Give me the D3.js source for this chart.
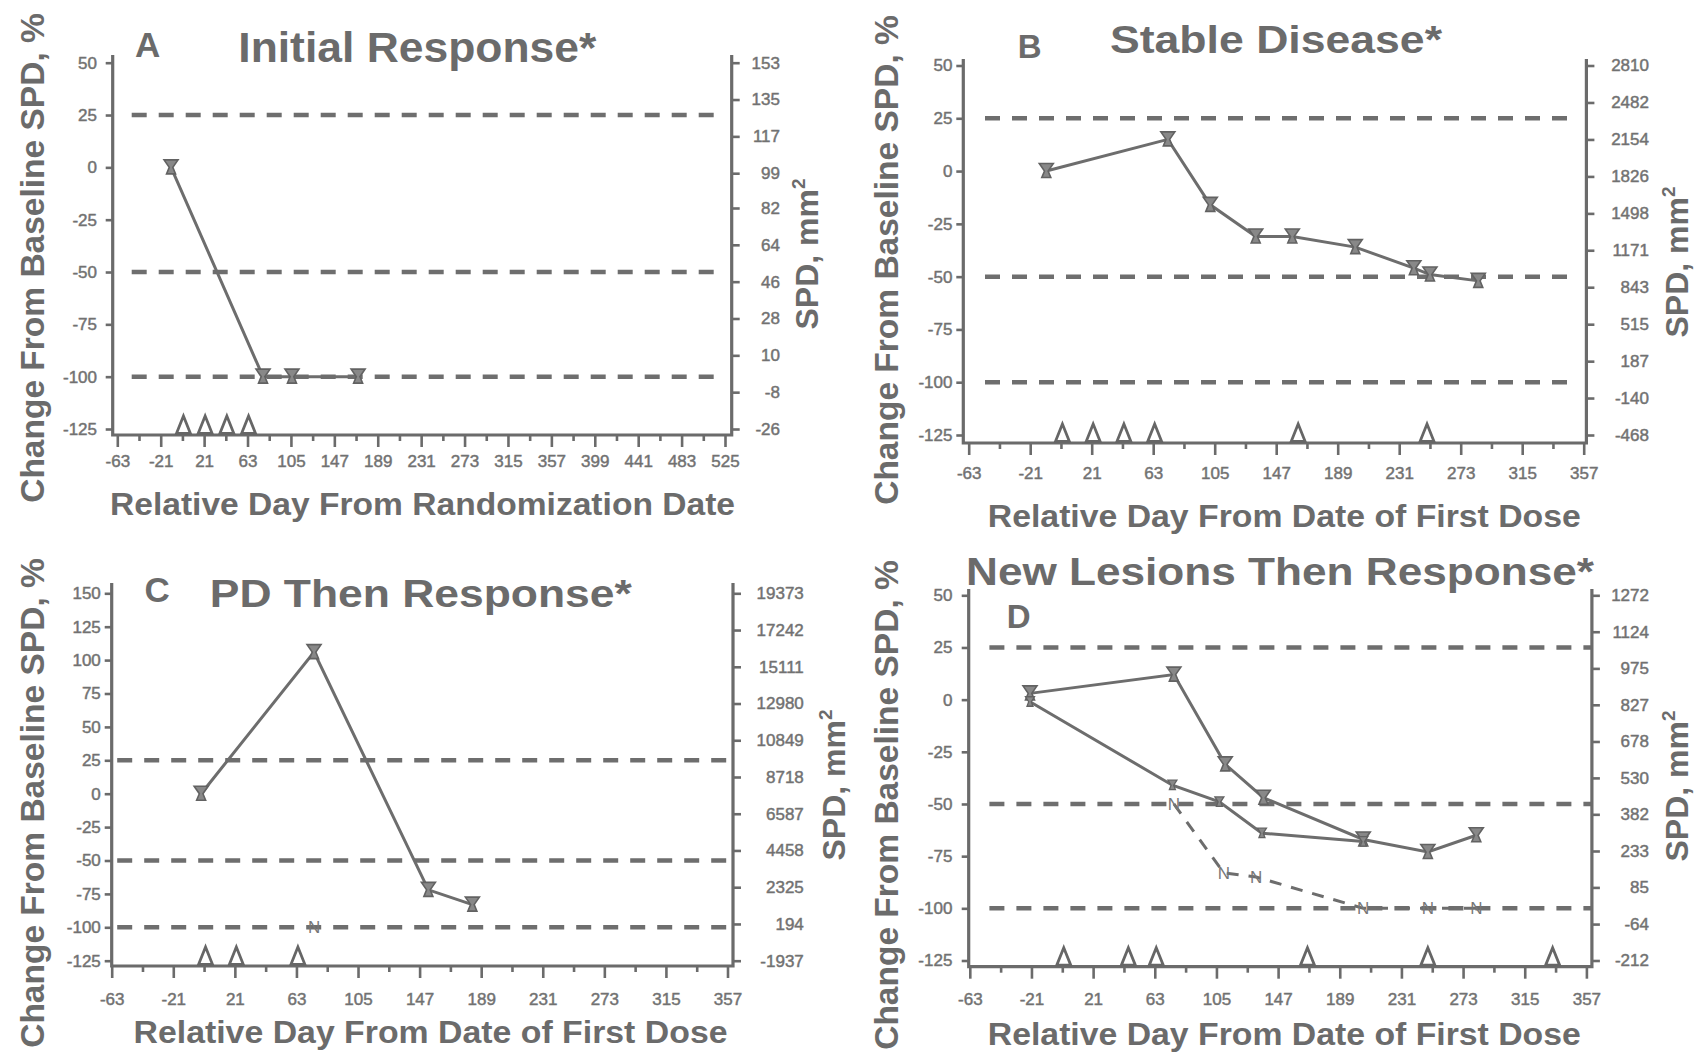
<!DOCTYPE html>
<html>
<head>
<meta charset="utf-8">
<script src="https://cdn.jsdelivr.net/npm/d3@7"></script>
<style>
  body { margin: 0; background: #ffffff; }
  svg { display: block; }
</style>
</head>
<body>
<script>
// ---------------- DATA ----------------
const pctTicksStd = [50, 25, 0, -25, -50, -75, -100, -125];
const pctTicksC = [150, 125, 100, 75, 50, 25, 0, -25, -50, -75, -100, -125];
const dayTicksA = [-63, -21, 21, 63, 105, 147, 189, 231, 273, 315, 357, 399, 441, 483, 525];
const dayTicksDose = [-63, -21, 21, 63, 105, 147, 189, 231, 273, 315, 357];
const spdTicksA = [153, 135, 117, 99, 82, 64, 46, 28, 10, -8, -26];
const spdTicksB = [2810, 2482, 2154, 1826, 1498, 1171, 843, 515, 187, -140, -468];
const spdTicksC = [19373, 17242, 15111, 12980, 10849, 8718, 6587, 4458, 2325, 194, -1937];
const spdTicksD = [1272, 1124, 975, 827, 678, 530, 382, 233, 85, -64, -212];
const thresholds = [25, -50, -100];

const daysA = [-11, 78, 106, 170];
const pctA = [0, -100, -100, -100];
const doseDaysA = [1, 22, 43, 64];

const daysB = [-10, 73, 102, 133, 158, 201, 241, 252, 285];
const pctB = [0, 15, -16, -31, -31, -36, -46, -49, -52];
const doseDaysB = [1, 22, 43, 64, 162, 250];

const daysC = [-2, 75, 153, 183];
const pctC = [0, 106, -72, -83];
const newLesionDaysC = [75];
const newLesionPctC = [-100];
const doseDaysC = [1, 22, 64];

const daysD1 = [-22, 76, 111, 137, 205, 249, 282];
const pctD1 = [3, 12, -31, -47, -67, -73, -65];
const daysD2 = [-22, 75, 107, 136, 205];
const pctD2 = [-1, -41, -49, -64, -68];
const newLesionDaysD = [76, 110, 132, 205, 249, 282];
const newLesionPctD = [-50, -83, -85, -100, -100, -100];
const doseDaysD = [1, 45, 64, 167, 249, 334];

// ---------------- LAYOUT ----------------
const W = 1698, H = 1058;
const GRAY = "#6b6b6b";
const LINE = "#6d6d6d";
const FONT = "'Liberation Sans', Arial, Helvetica, sans-serif";

const panels = [
  { letter: "A", title: "Initial Response*", xTitle: "Relative Day From Randomization Date",
    dayTicks: dayTicksA, pctTicks: pctTicksStd, spdTicks: spdTicksA,
    series: [{ days: daysA, pct: pctA, marker: "big" }], nl: null, doses: doseDaysA,
    L: 112.7, R: 731.7, xd: [-63, 525], xr: [117.3, 725], yd: [-125, 50], yr: [429, 62.7],
    axisY: 435, axisTop: 55, leftLabelX: 97, rightLabelX: 780, xLabelBase: 467,
    refStart: 19, refEnd: 11.7,
    letterPos: [135, 57, 35], titlePos: [238.3, 62, 42, 358], xTitlePos: [110, 515, 625],
    yTitlePos: [43.5, 258], rTitlePos: [818, 254] },
  { letter: "B", title: "Stable Disease*", xTitle: "Relative Day From Date of First Dose",
    dayTicks: dayTicksDose, pctTicks: pctTicksStd, spdTicks: spdTicksB,
    series: [{ days: daysB, pct: pctB, marker: "big" }], nl: null, doses: doseDaysB,
    L: 963.3, R: 1586.4, xd: [-63, 357], xr: [968.7, 1583.7], yd: [-125, 50], yr: [435, 65.5],
    axisY: 443, axisTop: 59, leftLabelX: 952.4, rightLabelX: 1649, xLabelBase: 479,
    refStart: 21.7, refEnd: 11,
    letterPos: [1017.7, 58, 33], titlePos: [1110, 53, 38, 332], xTitlePos: [987.8, 527, 593],
    yTitlePos: [898, 260], rTitlePos: [1688, 262] },
  { letter: "C", title: "PD Then Response*", xTitle: "Relative Day From Date of First Dose",
    dayTicks: dayTicksDose, pctTicks: pctTicksC, spdTicks: spdTicksC,
    series: [{ days: daysC, pct: pctC, marker: "big" }],
    nl: { days: newLesionDaysC, pct: newLesionPctC, line: false }, doses: doseDaysC,
    L: 111.7, R: 733, xd: [-63, 357], xr: [111.7, 727.5], yd: [-125, 150], yr: [960.7, 593.3],
    axisY: 966, axisTop: 583, leftLabelX: 100.8, rightLabelX: 803.8, xLabelBase: 1005,
    refStart: 5.5, refEnd: 3,
    letterPos: [144.4, 602, 35], titlePos: [209.8, 606.7, 38, 422], xTitlePos: [133.5, 1043.3, 594],
    yTitlePos: [44, 803], rTitlePos: [845, 785] },
  { letter: "D", title: "New Lesions Then Response*", xTitle: "Relative Day From Date of First Dose",
    dayTicks: dayTicksDose, pctTicks: pctTicksStd, spdTicks: spdTicksD,
    series: [{ days: daysD1, pct: pctD1, marker: "big" }, { days: daysD2, pct: pctD2, marker: "small" }],
    nl: { days: newLesionDaysD, pct: newLesionPctD, line: true }, doses: doseDaysD,
    L: 968.7, R: 1591.9, xd: [-63, 357], xr: [969.8, 1586.4], yd: [-125, 50], yr: [960.5, 595.3],
    axisY: 966.7, axisTop: 589, leftLabelX: 952.4, rightLabelX: 1649, xLabelBase: 1005,
    refStart: 20.7, refEnd: 0,
    letterPos: [1006.8, 628.3, 33], titlePos: [966, 585, 38, 628], xTitlePos: [987.8, 1045, 593],
    yTitlePos: [898, 805], rTitlePos: [1688, 786] }
];

// ---------------- DRAW ----------------
const svg = d3.select("body").append("svg")
  .attr("width", W).attr("height", H)
  .style("font-family", FONT)
  .style("background", "#fff");

function styleAxis(sel, fontSize) {
  sel.select(".domain").remove();
  sel.selectAll(".tick line").attr("stroke", GRAY).attr("stroke-width", 2.6);
  sel.selectAll(".tick text")
    .attr("fill", "#6e6e6e")
    .attr("stroke", "#7a7a7a").attr("stroke-width", 0.5)
    .style("font-size", fontSize + "px")
    .style("font-family", FONT);
}

function bigMarker(g, cx, cy) {
  g.append("path")
    .attr("d", `M${cx - 7},${cy - 7.5} H${cx + 7} L${cx + 1.8},${cy} L${cx + 4.5},${cy + 6.5} H${cx - 4.5} L${cx - 1.8},${cy} Z`)
    .attr("fill", "#888").attr("stroke", "#626262").attr("stroke-width", 1.6);
}
function smallMarker(g, cx, cy) {
  g.append("path")
    .attr("d", `M${cx - 4.5},${cy - 5} H${cx + 4.5} L${cx + 1.3},${cy} L${cx + 3},${cy + 4.5} H${cx - 3} L${cx - 1.3},${cy} Z`)
    .attr("fill", "#888").attr("stroke", "#626262").attr("stroke-width", 1.3);
}

function drawPanel(p) {
  const g = svg.append("g");
  const x = d3.scaleLinear().domain(p.xd).range(p.xr);
  const y = d3.scaleLinear().domain(p.yd).range(p.yr);
  const spd = p.spdTicks;
  const yR = d3.scaleLinear().domain([spd[spd.length - 1], spd[0]])
    .range([y(-125), y(p.yd[1])]);

  // threshold dashed lines
  g.selectAll("line.ref").data(thresholds).join("line").attr("class", "ref")
    .attr("x1", p.L + p.refStart).attr("x2", p.R - p.refEnd)
    .attr("y1", d => y(d)).attr("y2", d => y(d))
    .attr("stroke", "#6e6e6e").attr("stroke-width", 4.5)
    .attr("stroke-dasharray", "15,12");

  // axes frame (left, bottom, right)
  g.append("path")
    .attr("d", `M${p.L},${p.axisTop} V${p.axisY} H${p.R} V${p.axisTop}`)
    .attr("fill", "none").attr("stroke", GRAY).attr("stroke-width", 3.2);

  // left axis
  const la = g.append("g").attr("transform", `translate(${p.L},0)`)
    .call(d3.axisLeft(y).tickValues(p.pctTicks).tickSize(7)
      .tickPadding(p.L - 7 - p.leftLabelX).tickFormat(d => String(d)));
  styleAxis(la, 17);

  // right axis
  const ra = g.append("g").attr("transform", `translate(${p.R},0)`)
    .call(d3.axisRight(yR).tickValues(spd).tickSize(8).tickFormat(d => String(d)));
  styleAxis(ra, 17);
  ra.selectAll(".tick text").attr("text-anchor", "end").attr("x", p.rightLabelX - p.R);

  // bottom axis: major + minor ticks
  const pad = p.xLabelBase - p.axisY - 12 - 12;
  const ba = g.append("g").attr("transform", `translate(0,${p.axisY})`)
    .call(d3.axisBottom(x).tickValues(p.dayTicks).tickSize(12).tickPadding(pad)
      .tickFormat(d => String(d)));
  styleAxis(ba, 17);
  const minor = d3.pairs(p.dayTicks).map(([a, b]) => (a + b) / 2);
  const mb = g.append("g").attr("transform", `translate(0,${p.axisY})`)
    .call(d3.axisBottom(x).tickValues(minor).tickSize(6).tickFormat(""));
  styleAxis(mb, 17);

  // dose triangles on the baseline
  g.selectAll("path.dose").data(p.doses).join("path").attr("class", "dose")
    .attr("d", d => {
      const cx = x(d), by = p.axisY - 1.5, ty = p.axisY - 19;
      return `M${cx},${ty} L${cx + 7},${by} L${cx - 7},${by} Z`;
    })
    .attr("fill", "#fff").attr("stroke", "#666").attr("stroke-width", 2.8);

  // new lesion series
  if (p.nl) {
    const pts = p.nl.days.map((d, i) => [x(d), y(p.nl.pct[i])]);
    if (p.nl.line) {
      g.append("path").attr("d", d3.line()(pts))
        .attr("fill", "none").attr("stroke", LINE).attr("stroke-width", 3)
        .attr("stroke-dasharray", "12,10");
    }
    g.selectAll("text.nl").data(pts).join("text").attr("class", "nl")
      .attr("x", d => d[0]).attr("y", d => d[1] + 6)
      .attr("text-anchor", "middle")
      .style("font-size", "17px")
      .attr("fill", "#777")
      .text("N");
  }

  // SPD series
  p.series.forEach(s => {
    const pts = s.days.map((d, i) => [x(d), y(s.pct[i])]);
    g.append("path").attr("d", d3.line()(pts))
      .attr("fill", "none").attr("stroke", LINE).attr("stroke-width", 3);
    pts.forEach(pt => (s.marker === "big" ? bigMarker : smallMarker)(g, pt[0], pt[1]));
  });

  // titles
  g.append("text").attr("x", p.letterPos[0]).attr("y", p.letterPos[1])
    .style("font-size", p.letterPos[2] + "px").style("font-weight", "bold")
    .attr("fill", GRAY).text(p.letter);
  g.append("text").attr("x", p.titlePos[0]).attr("y", p.titlePos[1])
    .style("font-size", p.titlePos[2] + "px").style("font-weight", "bold")
    .attr("textLength", p.titlePos[3]).attr("lengthAdjust", "spacingAndGlyphs")
    .attr("fill", GRAY).text(p.title);
  g.append("text").attr("x", p.xTitlePos[0]).attr("y", p.xTitlePos[1])
    .style("font-size", "32px").style("font-weight", "bold")
    .attr("textLength", p.xTitlePos[2]).attr("lengthAdjust", "spacingAndGlyphs")
    .attr("fill", GRAY).text(p.xTitle);
  g.append("text")
    .attr("transform", `translate(${p.yTitlePos[0]},${p.yTitlePos[1]}) rotate(-90)`)
    .attr("text-anchor", "middle")
    .style("font-size", "33.5px").style("font-weight", "bold")
    .attr("fill", GRAY).text("Change From Baseline SPD, %");
  const rt = g.append("text")
    .attr("transform", `translate(${p.rTitlePos[0]},${p.rTitlePos[1]}) rotate(-90)`)
    .attr("text-anchor", "middle")
    .style("font-size", "32px").style("font-weight", "bold")
    .attr("fill", GRAY);
  rt.append("tspan").text("SPD, mm");
  rt.append("tspan").attr("dy", -13).style("font-size", "19px").text("2");
}

panels.forEach(drawPanel);
</script>
</body>
</html>
